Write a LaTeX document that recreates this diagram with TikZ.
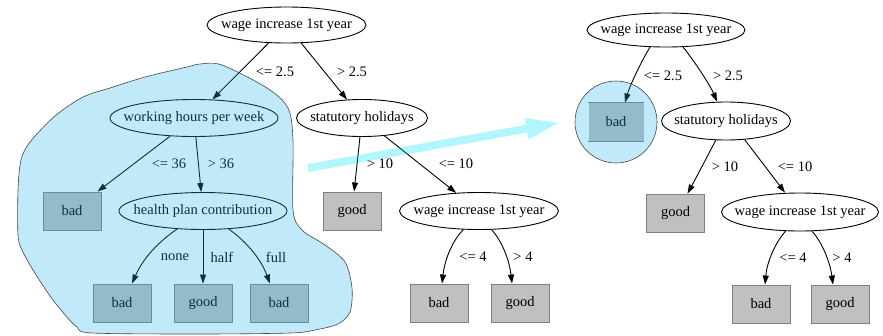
\documentclass[tikz,border=0pt]{standalone}
\usepackage{fontspec}
\setmainfont{Liberation Serif}
\usetikzlibrary{shapes.geometric,arrows.meta}
\definecolor{boxgray}{RGB}{192,192,192}
\definecolor{boxedge}{RGB}{128,128,128}
\definecolor{blobcol}{RGB}{30,180,235}
\definecolor{arrowcol}{RGB}{0,230,255}
\definecolor{blobline}{RGB}{70,70,70}
\newcommand{\zw}[1]{\makebox[0pt][c]{#1}}
\tikzset{
  txt/.style={font=\fontsize{14.5}{17}\selectfont},
  test/.style={txt, ellipse, draw, line width=0.9pt, inner sep=0pt, minimum height=36pt},
  leaf/.style={txt, rectangle, draw=boxedge, fill=boxgray, line width=0.9pt, minimum width=58pt, minimum height=38pt, inner sep=0pt},
  lab/.style={txt, inner sep=0pt},
  edge/.style={line width=0.9pt, -{Triangle[length=9pt,width=6pt]}},
  overlay/.style={fill=blobcol, fill opacity=0.28, draw=blobline, line width=0.6pt},
}
\begin{document}
\begin{tikzpicture}[x=1pt,y=1pt]
\useasboundingbox (0,0) rectangle (883,-335);
\fill[white] (0,0) rectangle (883,-335);

% left tree
\node[test, minimum width=159pt] (root) at (286.5,-25) {\zw{wage increase 1st year}};
\node[test, minimum width=168pt, minimum height=37pt] (wh) at (194,-118) {\zw{working hours per week}};
\node[test, minimum width=131pt, minimum height=37pt] (stat) at (362,-118) {\zw{statutory holidays}};
\node[leaf] (b0) at (72,-211) {bad};
\node[test, minimum width=168pt, minimum height=37pt] (hp) at (203,-211) {\zw{health plan contribution}};
\node[leaf] (g0) at (352,-211) {good};
\node[test, minimum width=159pt, minimum height=37pt] (w2) at (479,-211) {\zw{wage increase 1st year}};
\node[leaf] (b1) at (122,-303) {bad};
\node[leaf] (g1) at (203,-303) {good};
\node[leaf] (b2) at (279,-303) {bad};
\node[leaf] (b3) at (439,-303) {bad};
\node[leaf] (g3) at (520,-303) {good};

\draw[edge] (root) -- (wh);
\draw[edge] (root) -- (stat);
\draw[edge] (wh) -- (b0);
\draw[edge] (wh) -- (hp);
\draw[edge] (hp.215) .. controls (165,-237) and (145,-254) .. ([xshift=10pt]b1.north);
\draw[edge] (hp) -- (g1);
\draw[edge] (hp.325) .. controls (240,-237) and (259,-254) .. ([xshift=-9pt]b2.north);
\draw[edge] (stat) -- (g0);
\draw[edge] (stat) -- (w2);
\draw[edge] (w2.230) .. controls (453,-240) and (445,-258) .. ([xshift=3pt]b3.north);
\draw[edge] (w2.304) .. controls (501,-240) and (509,-258) .. ([xshift=-8pt]g3.north);

\node[lab] (l1) at (275,-72) {<= 2.5};
\node[lab] (l2) at (352,-72) {> 2.5};
\node[lab] (l3) at (169,-164) {<= 36};
\node[lab] (l4) at (221,-164) {> 36};
\node[lab] (l5) at (175,-257) {none};
\node[lab] (l6) at (222,-257) {half};
\node[lab] (l7) at (276,-257) {full};
\node[lab] (l8) at (380,-164) {> 10};
\node[lab] (l9) at (456,-164) {<= 10};
\node[lab] (l10) at (473,-257) {<= 4};
\node[lab] (l11) at (523,-257) {> 4};

% right tree
\node[test, minimum width=158pt, minimum height=34pt] (rroot) at (666,-30) {\zw{wage increase 1st year}};
\node[leaf, minimum width=55pt, draw=none] (rbad) at (616,-122) {bad};
\draw[boxedge, line width=0.9pt] (rbad.north west) -- (rbad.north east)
  (rbad.south west) -- (rbad.south east);
\node[test, minimum width=129pt, minimum height=38pt] (rstat) at (726,-121) {\zw{statutory holidays}};
\node[leaf] (rgood) at (675.5,-213) {good};
\node[test, minimum width=157pt, minimum height=38pt] (rw2) at (800,-212) {\zw{wage increase 1st year}};
\node[leaf] (rb) at (761,-304) {bad};
\node[leaf] (rg) at (840,-304) {good};

\draw[edge] (rroot.227) .. controls (642,-60) and (630,-85) .. ([xshift=9pt]rbad.north);
\draw[edge] (rroot.315) .. controls (695,-62) and (710,-85) .. ([xshift=-9pt]rstat.north);
\draw[edge] (rstat.242) .. controls (708,-155) and (696,-178) .. ([xshift=12pt]rgood.north);
\draw[edge] (rstat.315) -- ([xshift=-15pt]rw2.north);
\draw[edge] (rw2.233) .. controls (775,-243) and (767,-262) .. ([xshift=4pt]rb.north);
\draw[edge] (rw2.302) .. controls (822,-242) and (830,-262) .. ([xshift=-7pt]rg.north);

\node[lab] (r1) at (663,-76) {<= 2.5};
\node[lab] (r2) at (728,-76) {> 2.5};
\node[lab] (r3) at (725,-167) {> 10};
\node[lab] (r4) at (795,-167) {<= 10};
\node[lab] (r5) at (793,-258) {<= 4};
\node[lab] (r6) at (842,-258) {> 4};

% overlays
\path[overlay] plot[smooth cycle, tension=0.5] coordinates {
 (200,-64) (222,-65) (267,-88) (288,-108) (293,-140) (293,-210) (302,-230)
 (325,-245) (345,-262) (352,-288) (350,-312) (338,-324) (315,-330) (290,-333)
 (200,-334) (92,-333) (77,-327) (66,-316) (50,-296) (33,-270) (22,-250)
 (18,-235) (18,-190) (21,-160) (30,-142) (55,-116) (83,-97) (110,-88)
 (145,-77) (187,-67)};
\path[overlay] (rbad) circle (41pt);
\fill[arrowcol, fill opacity=0.3] (308.7,-171.9) -- (307.3,-164.1) -- (525.8,-124.8)
  -- (524.6,-117.9) -- (558,-123) -- (528.4,-139.5) -- (527.2,-132.6) -- cycle;
\end{tikzpicture}
\end{document}
